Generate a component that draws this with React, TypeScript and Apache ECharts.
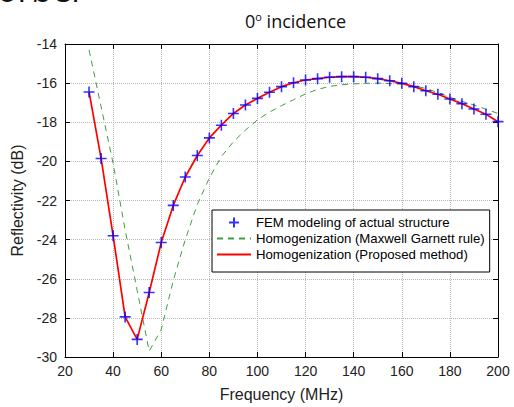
import React, { useEffect, useRef } from "react";
import * as echarts from "echarts";

const frequencies = [30, 35, 40, 45, 50, 55, 60, 65, 70, 75, 80, 85, 90, 95, 100, 105, 110, 115, 120, 125, 130, 135, 140, 145, 150, 155, 160, 165, 170, 175, 180, 185, 190, 195, 200];
const femValues = [-16.45, -19.85, -23.8, -27.95, -29.1, -26.7, -24.15, -22.25, -20.8, -19.7, -18.8, -18.15, -17.55, -17.12, -16.78, -16.47, -16.18, -15.98, -15.84, -15.77, -15.7, -15.67, -15.67, -15.7, -15.77, -15.88, -16.01, -16.18, -16.39, -16.57, -16.81, -17.05, -17.32, -17.59, -17.97];
const maxwellGarnettValues = [-14.3, -17.2, -20.1, -23.5, -26.6, -29.7, -28.6, -26.1, -24.0, -22.2, -20.85, -19.75, -19.0, -18.4, -17.88, -17.48, -17.15, -16.85, -16.55, -16.32, -16.17, -16.08, -16.04, -16.01, -16.0, -16.02, -16.06, -16.15, -16.27, -16.48, -16.72, -16.93, -17.12, -17.33, -17.55];
const proposedValues = [-16.45, -19.85, -23.8, -27.95, -29.1, -26.7, -24.15, -22.25, -20.8, -19.7, -18.8, -18.15, -17.55, -17.12, -16.78, -16.47, -16.18, -15.98, -15.84, -15.77, -15.7, -15.67, -15.67, -15.7, -15.77, -15.88, -16.01, -16.18, -16.39, -16.57, -16.81, -17.05, -17.32, -17.59, -17.97];

const seriesNames = [
  "FEM modeling of actual structure",
  "Homogenization (Maxwell Garnett rule)",
  "Homogenization (Proposed method)",
];
const titleText = "0{sup|o} incidence";
const xAxisName = "Frequency (MHz)";
const yAxisName = "Reflectivity (dB)";
const slideFragment = "orber";

const pair = (xs: number[], ys: number[]) => xs.map((x, i) => [x, ys[i]]);

const FONT = "'Liberation Sans', Arial, sans-serif";
const PLUS = "path://M0,5L10,5M5,0L5,10";

export default function App() {
  const ref = useRef<HTMLDivElement>(null);
  useEffect(() => {
    document.body.style.margin = "0";
    if (!ref.current) return;
    const chart = echarts.init(ref.current, null, { renderer: "svg" });
    const axisCommon = {
      type: "value" as const,
      axisLine: { show: true, onZero: false, lineStyle: { color: "#000", width: 1 } },
      axisTick: { show: true, inside: true, length: 5, lineStyle: { color: "#000" } },
    };
    chart.setOption({
      animation: false,
      backgroundColor: "#fff",
      grid: { left: 65, right: 16, top: 44, bottom: 50, containLabel: false },
      title: {
        text: titleText,
        left: 240,
        top: 6,
        textStyle: {
          fontFamily: "'Open Sans', sans-serif",
          fontSize: 18,
          fontWeight: "normal",
          color: "#111",
          rich: {
            sup: { fontSize: 11, verticalAlign: "top", padding: [0, 0, 9, 0], fontFamily: "'Open Sans', sans-serif", color: "#111" },
          },
        },
      },
      graphic: [
        {
          type: "text",
          x: -3,
          y: -11,
          style: {
            text: slideFragment,
            fontSize: 34,
            fontFamily: "'Open Sans', sans-serif",
            fill: "#111",
            verticalAlign: "middle",
          },
        },
      ],
      legend: {
        orient: "vertical",
        left: 212,
        top: 210,
        padding: [6, 5, 11, 4],
        itemGap: 3,
        itemWidth: 34,
        itemHeight: 10,
        borderColor: "#000",
        borderWidth: 1,
        borderRadius: 0,
        backgroundColor: "#fff",
        textStyle: { fontFamily: FONT, fontSize: 13.2, color: "#000" },
        data: [
          { name: seriesNames[0] },
          { name: seriesNames[1], itemStyle: { opacity: 0 } },
          { name: seriesNames[2], itemStyle: { opacity: 0 } },
        ],
      },
      xAxis: [
        {
          ...axisCommon,
          min: 20,
          max: 200,
          interval: 20,
          position: "bottom",
          name: xAxisName,
          nameLocation: "middle",
          nameGap: 29,
          nameTextStyle: { fontFamily: FONT, fontSize: 16, color: "#222" },
          axisLabel: { fontFamily: FONT, fontSize: 14, color: "#222", margin: 7 },
          splitLine: { show: true, lineStyle: { color: "#b8b8b8", type: "dotted", width: 1 } },
        },
        {
          ...axisCommon,
          min: 20,
          max: 200,
          interval: 20,
          position: "top",
          axisLabel: { show: false },
          splitLine: { show: false },
        },
      ],
      yAxis: [
        {
          ...axisCommon,
          min: -30,
          max: -14,
          interval: 2,
          position: "left",
          name: yAxisName,
          nameLocation: "middle",
          nameGap: 27,
          nameTextStyle: { fontFamily: FONT, fontSize: 16, color: "#222" },
          axisLabel: { fontFamily: FONT, fontSize: 14, color: "#222", margin: 8 },
          splitLine: { show: true, lineStyle: { color: "#b8b8b8", type: "dotted", width: 1 } },
        },
        {
          ...axisCommon,
          min: -30,
          max: -14,
          interval: 2,
          position: "right",
          axisLabel: { show: false },
          splitLine: { show: false },
        },
      ],
      series: [
        {
          name: seriesNames[0],
          type: "scatter",
          data: pair(frequencies, femValues),
          symbol: PLUS,
          symbolSize: 11,
          itemStyle: { color: "#0000ff", borderColor: "#0000ff", borderWidth: 1.6 },
          z: 5,
        },
        {
          name: seriesNames[1],
          type: "line",
          data: pair(frequencies, maxwellGarnettValues),
          showSymbol: false,
          symbol: "none",
          smooth: false,
          itemStyle: { color: "#3f9f3f" },
          lineStyle: { color: "#3f9f3f", width: 1, type: [6, 5] },
          z: 3,
        },
        {
          name: seriesNames[2],
          type: "line",
          data: pair(frequencies, proposedValues),
          showSymbol: false,
          symbol: "none",
          itemStyle: { color: "#ff0000" },
          lineStyle: { color: "#ff0000", width: 1.7 },
          z: 4,
        },
      ],
    });
    return () => chart.dispose();
  }, []);
  return <div ref={ref} style={{ width: 514, height: 407 }} />;
}
